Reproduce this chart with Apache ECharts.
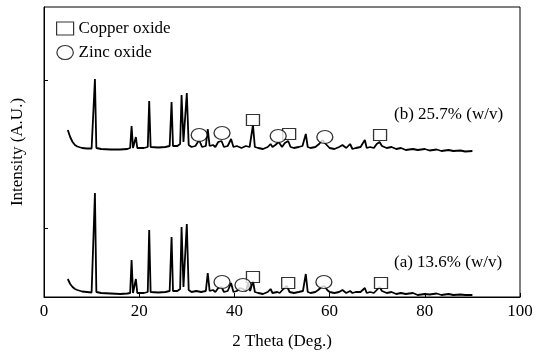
<!DOCTYPE html>
<html>
<head>
<meta charset="utf-8">
<script src="https://cdn.jsdelivr.net/npm/echarts@6/dist/echarts.min.js"></script>
<style>
html,body{margin:0;padding:0;background:#fff;}
#chart{width:551px;height:361px;}
</style>
</head>
<body>
<div id="chart"></div>
<script>
// 2 theta ticks
var xTicks = [0, 20, 40, 60, 80, 100];
// y ticks (arbitrary intensity units)
var yTicks = [69, 217];

// (b) 25.7% (w/v) trace, [2theta, intensity]
var traceB = [
	[5,167],[5.5,160],[6,155],[6.5,152],[7,150.5],[8,149],[9,148.5],[10,148.5],[10.4,149],[10.7,218],[11.0,149],
	[12,148],[14,147.5],[16,147.5],[17.5,148],[18.1,149],[18.4,171],[18.7,149],[19.0,150],[19.3,160],[19.6,149],
	[21,149],[21.8,150],[22.1,196],[22.4,150],[24,149.5],[25.5,150],[26.4,151],[26.8,195],[27.1,151],[28,151],
	[28.6,153],[28.9,202],[29.3,155],[29.6,155],[30.0,204],[30.4,152],[31,150],[31.8,151],[32.6,157],[33.2,150],
	[34,151],[34.4,168],[34.8,151],[35.5,152],[36,150],[36.6,155],[37.3,156],[37.8,150],[38.6,151],[39.3,158],
	[39.8,150],[40.5,151],[41.5,149],[42.4,151],[43.2,150],[43.9,172],[44.3,150],[45,149],[46,148],[47,150],
	[47.6,153],[48,150],[48.6,152],[49.3,155],[50,150],[50.6,154],[51.3,156],[51.8,150],[52.5,149],[53.5,150],
	[54.3,151],[55.0,163],[55.4,150],[56,149],[57,150],[57.8,153],[58.5,157],[59.2,153],[60,149],[61,148],
	[62,150],[62.7,152],[63.5,149],[64.3,153],[64.8,148],[65.5,149],[66.5,150],[67.4,157],[67.8,149],[68.5,150],
	[69.3,149],[69.9,153],[70.5,155],[71,151],[72,149],[73,150],[74,148],[75,149],[76,147],[77.5,148],[78.5,147],
	[80,148],[81,146.5],[82.5,147.5],[83.5,146],[85,147],[86,146],[87.5,146.5],[88.5,145.5],[90,146]
];

// (a) 13.6% (w/v) trace
var traceA = [
	[5,18],[5.5,13],[6,10],[6.5,8],[7,7],[8,5.5],[9,5],[10,4.5],[10.4,5],[10.7,104],[11.0,5],
	[12,4],[14,3.5],[16,3],[17.5,3.5],[18.1,4],[18.4,37],[18.7,4],[19.0,5],[19.3,18],[19.6,4],
	[21,4],[21.8,5],[22.1,67],[22.4,5],[24,4.5],[25.5,5],[26.4,6],[26.8,60],[27.1,6],[28,6],
	[28.6,8],[28.9,70],[29.3,10],[29.6,10],[30.0,73],[30.4,7],[31,5],[32,6],[33,5],
	[34,6],[34.4,24],[34.8,6],[35.5,7],[36,5],[36.6,9],[37.3,10],[37.8,5],[38.6,6],[39.3,14],
	[39.8,5],[40.5,6],[41.2,9],[41.8,8],[42.4,6],[42.9,14],[43.3,6],[43.9,16],[44.3,5],[45,4],[46,3],[47,5],
	[47.6,8],[48,4],[49,5],[49.5,4],[50.3,8],[51,11],[51.6,5],[52.5,4],[53.5,5],
	[54.4,6],[55.0,23],[55.4,5],[56,4],[57,5],[57.6,7],[58.3,10],[58.9,11],[59.5,7],[60,5],[61,4],
	[62,5],[62.7,7],[63.5,4],[64.3,6],[64.8,4],[65.5,5],[66.5,5],[67.4,9],[67.8,4],[68.5,5],
	[69.3,4],[69.9,7],[70.5,10],[71,6],[72,4],[73,5],[74,3],[75,4],[76,3],[77.5,4],[78.5,2],
	[80,3],[81,2.5],[82.5,3.5],[83.5,2],[85,3],[86,2],[87.5,2.5],[88.5,2],[90,2]
];

// marker positions above peaks
var copperB = [[43.9,177],[51.5,163],[70.6,162]];
var zincB = [[32.6,162],[37.4,164],[49.2,161],[59.0,160]];
var copperA = [[43.9,20],[51.3,14],[70.8,14]];
var zincA = [[37.4,15],[41.8,12],[58.8,15]];

var labelB = '(b) 25.7% (w/v)';
var labelA = '(a) 13.6% (w/v)';

var serif = 'Liberation Serif';
var ellipse = 'path://M0,0.85A1,0.85 0 1,1 2,0.85A1,0.85 0 1,1 0,0.85Z';
var mkStyle = {color: '#fff', borderColor: '#000', borderWidth: 1.2};

var chart = echarts.init(document.getElementById('chart'));
var option = {
	animation: false,
	backgroundColor: '#fff',
	textStyle: {fontFamily: serif, color: '#000'},
	grid: {left: 44, right: 31, top: 7, bottom: 64, show: true, borderColor: '#000', borderWidth: 1},
	legend: {
		orient: 'vertical', left: 51, top: 15, itemGap: 7,
		itemWidth: 17, itemHeight: 14,
		textStyle: {fontFamily: serif, fontSize: 17, color: '#000'},
		data: [
			{name: 'Copper oxide', icon: 'path://M0,0L17,0L17,13L0,13Z', itemStyle: mkStyle},
			{name: 'Zinc oxide', icon: ellipse, itemStyle: mkStyle}
		]
	},
	xAxis: {
		type: 'value', min: 0, max: 100, interval: 20,
		name: '2 Theta (Deg.)', nameLocation: 'middle', nameGap: 36,
		nameTextStyle: {fontFamily: serif, fontSize: 17, color: '#000'},
		axisLine: {lineStyle: {color: '#000', width: 1}},
		axisTick: {inside: true, length: 4, lineStyle: {color: '#000'}},
		axisLabel: {fontFamily: serif, fontSize: 17, color: '#000', margin: 6,
			customValues: xTicks},
		splitLine: {show: false}
	},
	yAxis: {
		type: 'value', min: 0, max: 290,
		name: 'Intensity (A.U.)', nameLocation: 'middle', nameRotate: 90, nameGap: 18,
		nameTextStyle: {fontFamily: serif, fontSize: 17, color: '#000'},
		axisLine: {show: true, lineStyle: {color: '#000', width: 1}},
		axisTick: {inside: true, length: 4, lineStyle: {color: '#000'}, customValues: yTicks},
		axisLabel: {show: false},
		splitLine: {show: false}
	},
	graphic: [
		{type: 'text', left: 394, top: 106, style: {text: labelB, font: '17px "Liberation Serif"', fill: '#000'}},
		{type: 'text', left: 394, top: 254, style: {text: labelA, font: '17px "Liberation Serif"', fill: '#000'}}
	],
	series: [
		{type: 'line', name: 'b', data: traceB, symbol: 'none', lineStyle: {color: '#000', width: 1.8}, z: 2},
		{type: 'line', name: 'a', data: traceA, symbol: 'none', lineStyle: {color: '#000', width: 1.8}, z: 2},
		{type: 'scatter', name: 'Copper oxide', data: copperB.concat(copperA), symbol: 'rect', symbolSize: [13, 11], itemStyle: mkStyle, z: 3},
		{type: 'scatter', name: 'Zinc oxide', data: zincB.concat(zincA), symbol: ellipse, symbolSize: [16, 13], itemStyle: mkStyle, z: 3}
	]
};
chart.setOption(option);
</script>
</body>
</html>
